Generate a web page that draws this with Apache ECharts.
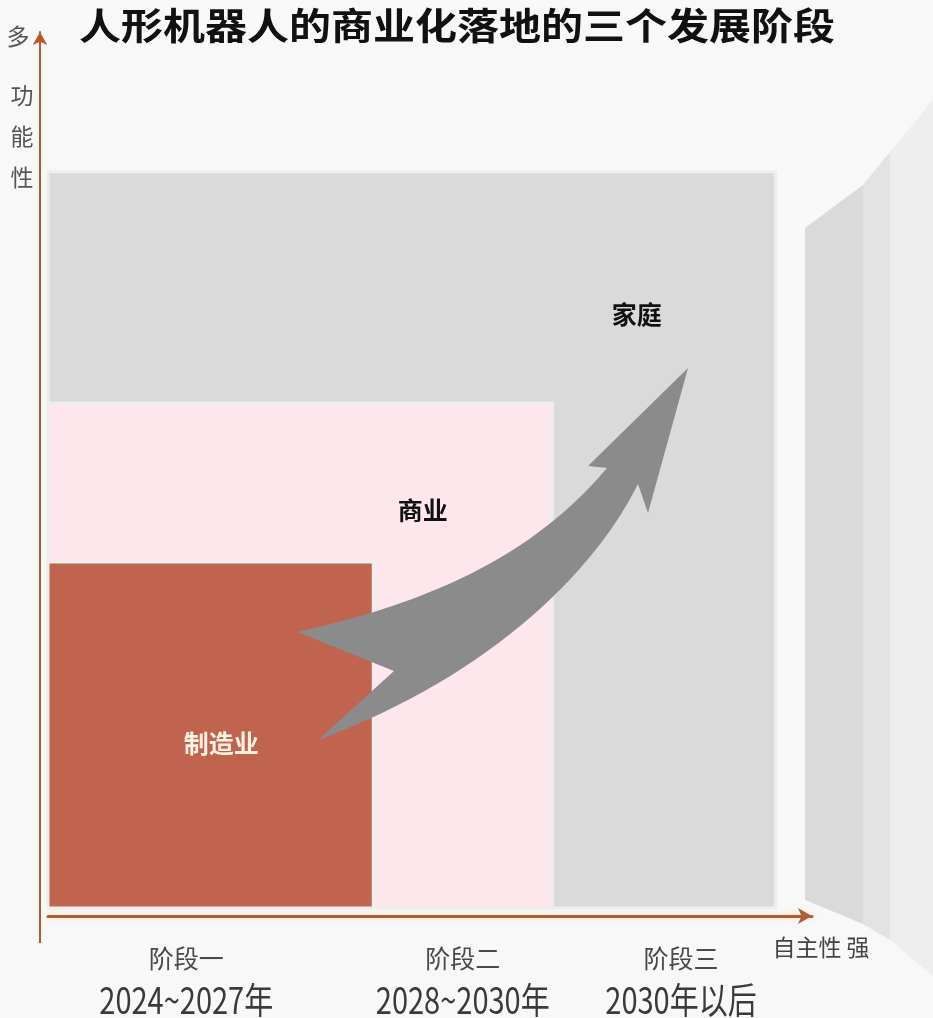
<!DOCTYPE html>
<html>
<head>
<meta charset="utf-8">
<script src="https://cdn.jsdelivr.net/npm/echarts@6/dist/echarts.min.js"></script>
<style>
  html, body { margin: 0; padding: 0; background: #f8f8f8; }
  #chart { width: 933px; height: 1018px; }
</style>
</head>
<body>
<div id="chart"></div>
<script>
// Three stages of commercial roll-out for humanoid robots
const stageNames = ['阶段一', '阶段二', '阶段三'];
const stagePeriods = ['2024~2027年', '2028~2030年', '2030年以后'];
const sceneNames = ['制造业', '商业', '家庭'];
// how far each stage reaches along autonomy (x) and versatility (y), 0–100
const autonomyReach = [44.7, 69.3, 100];
const versatilityReach = [47, 68.6, 100];

// layout: where the captions sit, in axis units
const stageCaptionX = [19, 57, 87];
const sceneCaptionAt = [[23.8, 22.3], [51.5, 54.0], [80.9, 80.6]];

// styling
const sceneFill = ['#c0634f', '#fde6ec', '#dadada'];
const sceneText = ['#fff3e4', '#111111', '#111111'];
const CJK = '"Noto Sans CJK SC", "Noto Sans", sans-serif';

// sample a cubic bezier into polygon points
function bezier(p0, c1, c2, p3, n) {
  const pts = [];
  for (let k = 1; k <= n; k++) {
    const t = k / n, u = 1 - t;
    pts.push([
      u * u * u * p0[0] + 3 * u * u * t * c1[0] + 3 * u * t * t * c2[0] + t * t * t * p3[0],
      u * u * u * p0[1] + 3 * u * u * t * c1[1] + 3 * u * t * t * c2[1] + t * t * t * p3[1]
    ]);
  }
  return pts;
}

// growth arrow outline: notched tail, curved body, barbed head
const arrowPts = [[297, 632]]
  .concat(bezier([297, 632], [420, 605], [530, 560], [607, 468], 30))
  .concat([[588, 466], [688, 368], [648, 513], [638, 484]])
  .concat(bezier([638, 484], [590, 580], [480, 680], [318, 740], 30))
  .concat([[394, 671]]);

const chart = echarts.init(document.getElementById('chart'), null, { renderer: 'canvas' });

// draw the widest stage first so the narrower ones stay on top
const sceneData = [2, 1, 0].map(i => ({
  name: sceneNames[i],
  value: [autonomyReach[i], versatilityReach[i], i]
}));

const stageData = stageNames.map((n, i) => ({ name: n, value: [stageCaptionX[i], 0, i] }));

const option = {
  backgroundColor: '#f8f8f8',
  animation: false,
  grid: { left: 48, top: 32, width: 764, height: 876, containLabel: false },
  xAxis: {
    type: 'value', min: 0, max: 105, offset: 8,
    axisLine: {
      show: true, onZero: false, symbol: ['none', 'arrow'], symbolSize: [12, 14],
      lineStyle: { color: '#ad5f3a', width: 3, shadowColor: 'rgba(255,205,130,0.7)', shadowBlur: 6 }
    },
    axisTick: { show: false }, axisLabel: { show: false }, splitLine: { show: false }
  },
  yAxis: {
    type: 'value', min: 0, max: 119, offset: 8,
    axisLine: {
      show: true, onZero: false, symbol: ['none', 'arrow'], symbolSize: [11, 13],
      lineStyle: { color: '#b9582c', width: 2 }
    },
    axisTick: { show: false }, axisLabel: { show: false }, splitLine: { show: false }
  },
  series: [
    {
      // nested stage areas
      type: 'custom',
      z: 2,
      data: sceneData,
      renderItem: function (params, api) {
        const i = api.value(2);
        const p0 = api.coord([0, 0]);
        const p1 = api.coord([api.value(0), api.value(1)]);
        const c = api.coord(sceneCaptionAt[i]);
        return {
          type: 'group',
          children: [
            {
              type: 'rect',
              shape: { x: p0[0], y: p1[1], width: p1[0] - p0[0], height: p0[1] - p1[1] },
              style: { fill: sceneFill[i], stroke: '#eeeeee', lineWidth: 3 }
            },
            {
              type: 'text',
              z2: 10,
              x: c[0], y: c[1],
              style: {
                text: sceneNames[i], x: 0, y: 0,
                align: 'center', verticalAlign: 'middle',
                fill: sceneText[i],
                font: 'bold 25px ' + CJK
              }
            }
          ]
        };
      }
    },
    {
      // stage captions under the autonomy axis
      type: 'custom',
      z: 3,
      data: stageData,
      renderItem: function (params, api) {
        const i = api.value(2);
        const p = api.coord([api.value(0), 0]);
        return {
          type: 'group',
          children: [
            {
              type: 'text',
              x: p[0], y: p[1] + 50,
              style: {
                text: stageNames[i], x: 0, y: 0,
                align: 'center', verticalAlign: 'middle',
                fill: '#4a4a4a', font: '25px ' + CJK
              }
            },
            {
              type: 'text',
              x: p[0], y: p[1] + 92,
              scaleY: 1.25,
              style: {
                text: stagePeriods[i], x: 0, y: 0,
                align: 'center', verticalAlign: 'middle',
                fill: '#3a3a3a', font: '29px ' + CJK
              }
            }
          ]
        };
      }
    }
  ],
  graphic: [
    // receding wall on the right
    { type: 'polygon', z: 0, shape: { points: [[805, 228], [863, 185], [863, 924], [805, 900]] }, style: { fill: '#dadada' } },
    { type: 'polygon', z: 0, shape: { points: [[863, 185], [890, 152], [890, 940], [863, 924]] }, style: { fill: '#e3e3e3' } },
    { type: 'polygon', z: 0, shape: { points: [[890, 152], [933, 100], [933, 976], [890, 940]] }, style: { fill: '#eeeeee' } },
    // y-axis tail below the autonomy axis
    { type: 'line', z: 5, shape: { x1: 40, y1: 906, x2: 40, y2: 943 }, style: { stroke: '#b9582c', lineWidth: 2 } },
    // growth arrow sweeping up through the stages
    { type: 'polygon', z: 50, shape: { points: arrowPts }, style: { fill: '#8b8b8b' } },
    // title
    {
      type: 'text', z: 60, x: 457, y: 26, scaleY: 0.88,
      style: {
        text: '人形机器人的商业化落地的三个发展阶段', x: 0, y: 0,
        textAlign: 'center', textVerticalAlign: 'middle',
        fill: '#111111', font: 'bold 42px ' + CJK
      }
    },
    // versatility axis name
    {
      type: 'text', z: 60, x: 18, y: 36,
      style: {
        text: '多', x: 0, y: 0,
        textAlign: 'center', textVerticalAlign: 'middle',
        fill: '#555555', font: '23px ' + CJK
      }
    },
    {
      type: 'text', z: 60, x: 22, y: 136,
      style: {
        text: '功\n能\n性', x: 0, y: 0, lineHeight: 41,
        textAlign: 'center', textVerticalAlign: 'middle',
        fill: '#555555', font: '23px ' + CJK
      }
    },
    // autonomy axis name
    {
      type: 'text', z: 60, x: 821, y: 947,
      style: {
        text: '自主性 强', x: 0, y: 0,
        textAlign: 'center', textVerticalAlign: 'middle',
        fill: '#444444', font: '23px ' + CJK
      }
    }
  ]
};

chart.setOption(option);
</script>
</body>
</html>
